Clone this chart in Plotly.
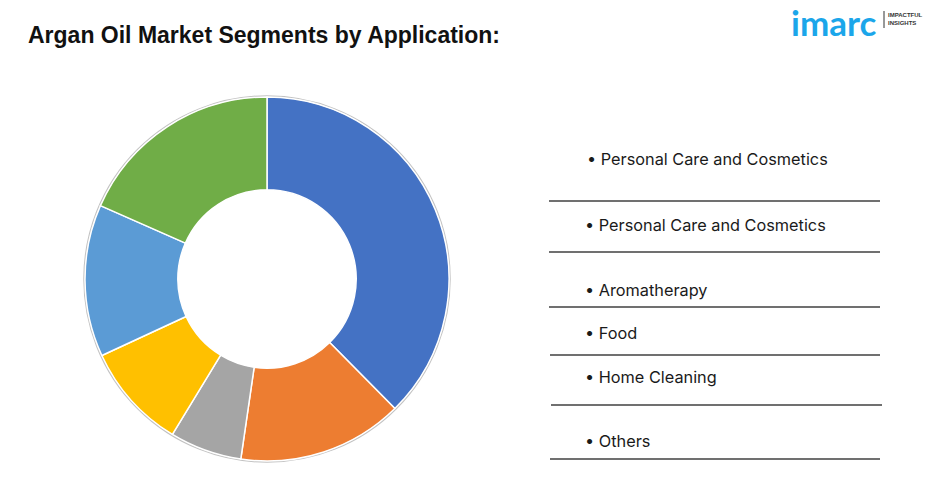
import plotly.graph_objects as go

# ---- data ----
segments = ["Personal Care and Cosmetics", "Personal Care and Cosmetics", "Aromatherapy",
            "Food", "Home Cleaning", "Others"]
shares = [37.6, 14.7, 6.4, 9.4, 13.5, 18.4]
colors = ["#4472C4", "#ED7D31", "#A5A5A5", "#FFC000", "#5B9BD5", "#70AD47"]
title_text = "Argan Oil Market Segments by Application:"

W, H = 940, 491

def px(x):
    return x / W

def py(y):
    return 1 - y / H

fig = go.Figure()

# donut centre (267, 279), radius 182
cx, cy, r = 267, 279, 182
fig.add_trace(go.Pie(
    labels=[str(i) for i in range(len(segments))],
    values=shares,
    text=segments,
    hovertemplate="%{text}: %{percent}<extra></extra>",
    textinfo="none",
    hole=0.49,
    sort=False,
    direction="clockwise",
    rotation=0,
    marker=dict(colors=colors, line=dict(color="white", width=1.5)),
    domain=dict(x=[px(cx - r), px(cx + r)], y=[py(cy + r), py(cy - r)]),
    showlegend=False,
))

shapes = []
# soft shadow ring
shapes.append(dict(type="circle", xref="paper", yref="paper",
                   x0=px(cx - r - 1), x1=px(cx + r + 1), y0=py(cy + r + 1), y1=py(cy - r - 1),
                   line=dict(color="rgba(120,120,120,0.45)", width=1.5), layer="below"))

annotations = []
text_y = [159, 225, 290, 333, 377, 441]
text_x = [585, 583, 583, 583, 583, 583]
line_y = [201, 252, 307, 355, 405, 459]
line_x = [(549, 880), (549, 880), (549, 880), (550, 880), (551, 882), (550, 880)]
for name, tx, ty in zip(segments, text_x, text_y):
    annotations.append(dict(x=px(tx), y=py(ty), xref="paper", yref="paper",
                            text="• " + name, showarrow=False, xanchor="left", yanchor="middle",
                            font=dict(family="Inter", size=16.3, color="#1a1a1a")))
for (x0, x1), ly in zip(line_x, line_y):
    shapes.append(dict(type="line", xref="paper", yref="paper",
                       x0=px(x0), x1=px(x1), y0=py(ly), y1=py(ly),
                       line=dict(color="#404040", width=1.5)))

# title
annotations.append(dict(x=px(26), y=py(35), xref="paper", yref="paper", text="<b>" + title_text + "</b>",
                        showarrow=False, xanchor="left", yanchor="middle",
                        font=dict(family="Liberation Sans", size=23, color="#111111")))

# logo
annotations.append(dict(x=px(790), y=py(0), xref="paper", yref="paper", text="<b>imarc</b>",
                        showarrow=False, xanchor="left", yanchor="top", borderpad=0,
                        font=dict(family="Lato", size=35, color="#1BA6EA")))
shapes.append(dict(type="line", xref="paper", yref="paper", x0=px(884), x1=px(884),
                   y0=py(11), y1=py(28), line=dict(color="#333333", width=1)))
annotations.append(dict(x=px(886), y=py(19), xref="paper", yref="paper",
                        text="<b>IMPACTFUL<br>INSIGHTS</b>",
                        showarrow=False, xanchor="left", yanchor="middle", align="left",
                        font=dict(family="Liberation Sans", size=6, color="#333333")))

fig.update_layout(
    width=W, height=H,
    margin=dict(l=0, r=0, t=0, b=0),
    paper_bgcolor="white", plot_bgcolor="white",
    shapes=shapes, annotations=annotations,
    showlegend=False,
)

fig.write_html("out.html")
